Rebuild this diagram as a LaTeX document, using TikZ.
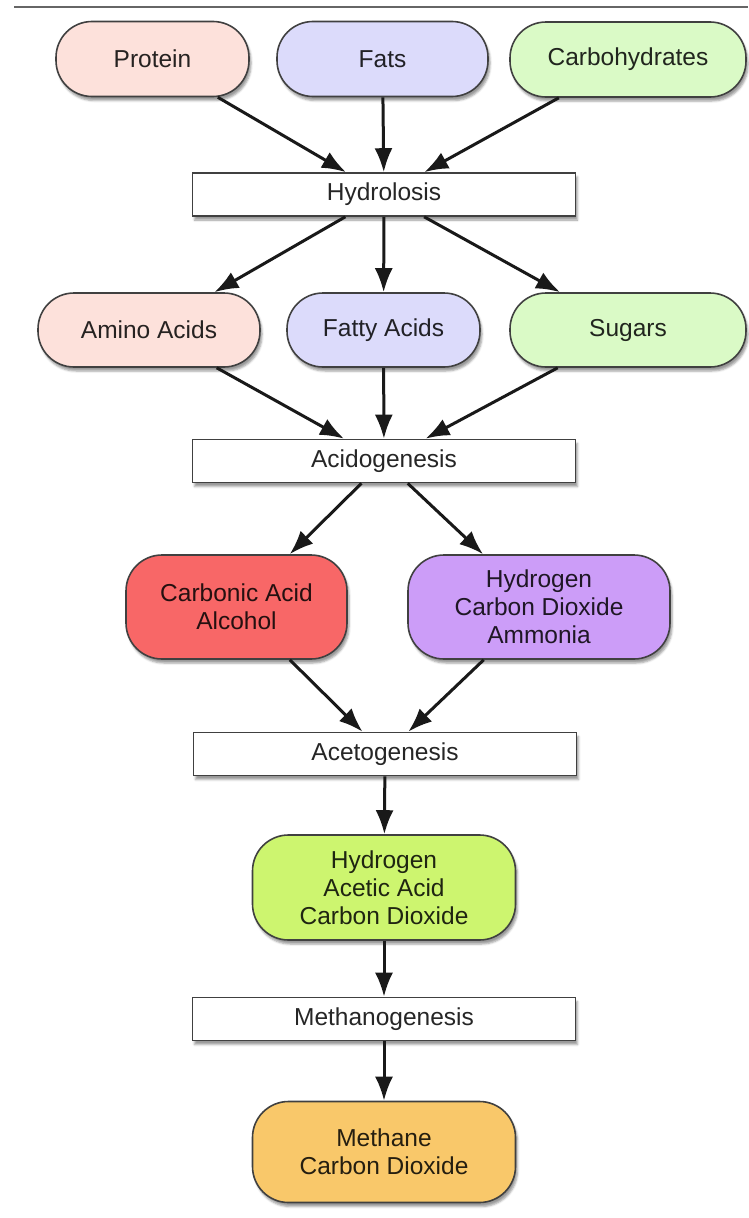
\documentclass[tikz,border=0pt]{standalone}
\usepackage{fontspec}
\setmainfont{Liberation Sans}
\usetikzlibrary{arrows.meta,shadows.blur}
\definecolor{proteincol}{HTML}{FDE1DB}
\definecolor{fatcol}{HTML}{DCDBFB}
\definecolor{carbcol}{HTML}{DAFAC6}
\definecolor{acidcol}{HTML}{F86767}
\definecolor{gascol}{HTML}{CC9DF8}
\definecolor{acetcol}{HTML}{CDF56F}
\definecolor{methcol}{HTML}{F9C86A}
\begin{document}
\begin{tikzpicture}[x=1pt,y=-1pt,
  font=\fontsize{24.5}{28}\selectfont,
  pill/.style={draw=black!75, line width=1.6pt, rounded corners=36pt, fill=#1,
    text=#1!15!black, align=center, inner sep=0pt,
    blur shadow={shadow xshift=2pt, shadow yshift=-4pt, shadow opacity=40}},
  stage/.style={draw=black!75, line width=1.6pt, fill=white, inner sep=0pt,
    text=black!85, minimum width=383pt, minimum height=43pt,
    blur shadow={shadow xshift=2pt, shadow yshift=-4pt, shadow opacity=40}},
  flow/.style={-{Latex[length=24pt,width=18pt]}, line width=3pt, black!90}]
\useasboundingbox (0,0) rectangle (748,1218);
% Rule at the top
\draw[line width=2.5pt, black!60] (14,7) -- (748,7);
% Substrates
\node[pill=proteincol, minimum width=193pt, minimum height=75pt] (protein) at (152.5,59) {Protein};
\node[pill=fatcol, minimum width=211pt, minimum height=75pt] (fats) at (382.5,59) {Fats};
\node[pill=carbcol, minimum width=236pt, minimum height=75pt] (carbs) at (628,59.5) {Carbohydrates};
\node[stage] (hydrolosis) at (384,194.5) {Hydrolosis};
% Monomers
\node[pill=proteincol, minimum width=222pt, minimum height=74pt] (amino) at (149,330) {Amino Acids};
\node[pill=fatcol, minimum width=193pt, minimum height=74pt] (fatty) at (383.5,330) {Fatty Acids};
\node[pill=carbcol, minimum width=236pt, minimum height=74pt] (sugars) at (628,330) {Sugars};
\node[stage] (acidogenesis) at (384,461) {Acidogenesis};
% Intermediates
\node[pill=acidcol, minimum width=221pt, minimum height=104pt] (carbonic) at (236.5,607) {Carbonic Acid\\Alcohol};
\node[pill=gascol, minimum width=262pt, minimum height=104pt] (gases) at (539,607) {Hydrogen\\Carbon Dioxide\\Ammonia};
\node[stage] (acetogenesis) at (385,754) {Acetogenesis};
\node[pill=acetcol, minimum width=263pt, minimum height=105pt] (acetic) at (384,887.5) {Hydrogen\\Acetic Acid\\Carbon Dioxide};
\node[stage] (methanogenesis) at (384,1019) {Methanogenesis};
% Products
\node[pill=methcol, minimum width=263pt, minimum height=101pt] (methane) at (384,1152) {Methane\\Carbon Dioxide};
% Arrows
\draw[flow] (protein) -- (hydrolosis);
\draw[flow] (fats) -- (hydrolosis);
\draw[flow] (carbs) -- (hydrolosis);
\draw[flow] (hydrolosis) -- (amino);
\draw[flow] (hydrolosis) -- (fatty);
\draw[flow] (hydrolosis) -- (sugars);
\draw[flow] (amino) -- (acidogenesis);
\draw[flow] (fatty) -- (acidogenesis);
\draw[flow] (sugars) -- (acidogenesis);
\draw[flow] (acidogenesis) -- (carbonic);
\draw[flow] (acidogenesis) -- (gases);
\draw[flow] (carbonic) -- (acetogenesis);
\draw[flow] (gases) -- (acetogenesis);
\draw[flow] (acetogenesis) -- (acetic);
\draw[flow] (acetic) -- (methanogenesis);
\draw[flow] (methanogenesis) -- (methane);
\end{tikzpicture}
\end{document}
